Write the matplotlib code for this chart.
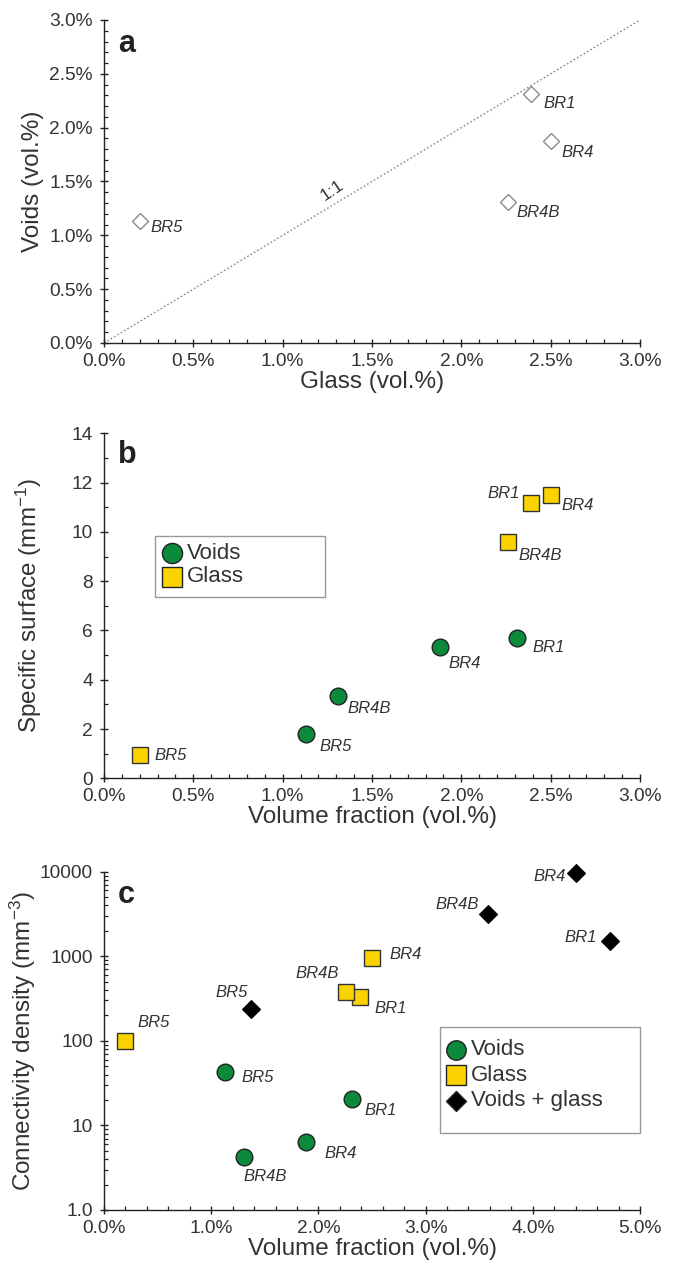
import matplotlib
matplotlib.use("Agg")
import matplotlib.pyplot as plt
from matplotlib.ticker import MultipleLocator, FixedLocator, NullFormatter, LogLocator, FuncFormatter
from matplotlib.patches import Rectangle

# ---------------- data ----------------
samples = ["BR1", "BR4", "BR4B", "BR5"]
glass_vol = [2.39, 2.50, 2.26, 0.20]          # glass volume fraction (vol.%)
voids_vol = [2.31, 1.88, 1.31, 1.13]          # voids volume fraction (vol.%)
voids_ss = [5.68, 5.33, 3.33, 1.79]           # specific surface voids (mm-1)
glass_ss = [11.19, 11.48, 9.59, 0.93]         # specific surface glass (mm-1)
voids_conn = [20.4, 6.4, 4.2, 43.3]           # connectivity density voids (mm-3)
glass_conn = [326, 952, 383, 100]             # connectivity density glass (mm-3)
comb_vol = [4.72, 4.40, 3.585, 1.367]         # voids + glass volume fraction
comb_conn = [1520, 9650, 3160, 239]           # connectivity density voids + glass

pct_ticks_a = [0.0, 0.5, 1.0, 1.5, 2.0, 2.5, 3.0]
ss_ticks = [0, 2, 4, 6, 8, 10, 12, 14]
pct_ticks_c = [0.0, 1.0, 2.0, 3.0, 4.0, 5.0]
conn_ticks = [1, 10, 100, 1000, 10000]
conn_labels = ["1.0", "10", "100", "1000", "10000"]

# ---------------- style ----------------
plt.rcParams['font.family'] = ['Liberation Sans', 'DejaVu Sans']
plt.rcParams['mathtext.fontset'] = 'custom'
plt.rcParams['mathtext.rm'] = 'Liberation Sans'
plt.rcParams['mathtext.it'] = 'Liberation Sans:italic'

GREEN = '#0b8a3c'
YELLOW = '#fbd400'
TXT = '#333333'
TICK_FS = 13.8
LAB_FS = 17.5
PT = 0.72  # px -> pt at dpi 100

fig = plt.figure(figsize=(6.73, 12.63), dpi=100)
W, H = 673, 1263


def rect(left, right, top, bottom):
    return [left / W, 1 - bottom / H, (right - left) / W, (bottom - top) / H]


def style_axes(ax):
    for s in ['top', 'right']:
        ax.spines[s].set_visible(False)
    for s in ['left', 'bottom']:
        ax.spines[s].set_linewidth(1.0)
        ax.spines[s].set_color('#222222')
    ax.tick_params(which='major', direction='inout', length=6, width=1.0,
                   color='#222222', labelsize=TICK_FS, labelcolor=TXT)
    ax.tick_params(which='minor', direction='in', length=2.8, width=0.9,
                   color='#222222')
    ax.tick_params(axis='x', which='major', pad=4)
    ax.tick_params(axis='y', which='major', pad=5)


def pct(v, pos=None):
    return f"{v:.1f}%"


def annotate(ax, xs, ys, offsets):
    for name, x, y in zip(samples, xs, ys):
        dx, dy, ha = offsets[name]
        ax.annotate(name, (x, y), xytext=(dx * PT, -dy * PT),
                    textcoords='offset points', ha=ha, va='center',
                    fontsize=12, fontstyle='italic', color=TXT)


def manual_legend(ax, box, mx, tx, rows):
    l, r, t, b = box
    ax.add_patch(Rectangle((l, b), r - l, t - b, transform=ax.transAxes,
                           facecolor='white', edgecolor='#999999', lw=1.0,
                           zorder=5, clip_on=False))
    for (y, marker, fc, ms, label) in rows:
        ax.plot([mx], [y], marker=marker, ms=ms, mfc=fc, mec='#222222',
                mew=1.0, ls='none', transform=ax.transAxes, zorder=6,
                clip_on=False)
        ax.text(tx, y, label, transform=ax.transAxes, fontsize=16,
                va='center', ha='left', color=TXT, zorder=6)


# ---------------- panel a ----------------
axa = fig.add_axes(rect(104, 640, 20, 343))
style_axes(axa)
axa.plot([0, 3], [0, 3], ls=(0, (1.2, 1.6)), color='#888888', lw=1.0, zorder=1)
axa.plot(glass_vol, voids_vol, ls='none', marker='D', ms=7.8, mfc='white',
         mec='#8a8a8a', mew=1.0, zorder=3, clip_on=False)
off_a = {"BR1": (12, 9, 'left'), "BR4": (11, 12, 'left'),
         "BR4B": (9, 11, 'left'), "BR5": (11, 6, 'left')}
annotate(axa, glass_vol, voids_vol, off_a)
axa.text(1.28, 1.42, "1:1", rotation=34, fontsize=12.5, color=TXT,
         ha='center', va='center')
axa.set_xlim(0, 3)
axa.set_ylim(0, 3)
axa.set_xticks(pct_ticks_a)
axa.set_yticks(pct_ticks_a)
axa.xaxis.set_major_formatter(FuncFormatter(pct))
axa.yaxis.set_major_formatter(FuncFormatter(pct))
axa.xaxis.set_minor_locator(MultipleLocator(0.1))
axa.yaxis.set_minor_locator(MultipleLocator(0.1))
axa.set_xlabel("Glass (vol.%)", fontsize=LAB_FS, color=TXT, labelpad=1)
axa.set_ylabel("Voids (vol.%)", fontsize=LAB_FS, color=TXT, labelpad=4)
axa.text(0.026, 0.90, "a", transform=axa.transAxes, fontsize=22,
         fontweight='bold', va='baseline', ha='left', color='#222222')

# ---------------- panel b ----------------
axb = fig.add_axes(rect(104, 640, 433.3, 778.3))
style_axes(axb)
axb.plot(voids_vol, voids_ss, ls='none', marker='o', ms=12, mfc=GREEN,
         mec='#222222', mew=1.0, zorder=3)
axb.plot(glass_vol, glass_ss, ls='none', marker='s', ms=12, mfc=YELLOW,
         mec='#333333', mew=1.0, zorder=3)
off_bv = {"BR1": (16, 9, 'left'), "BR4": (9, 17, 'left'),
          "BR4B": (9, 12, 'left'), "BR5": (14, 12, 'left')}
off_bg = {"BR1": (-11, -9, 'right'), "BR4": (11, 10, 'left'),
          "BR4B": (11, 14, 'left'), "BR5": (15, 0, 'left')}
annotate(axb, voids_vol, voids_ss, off_bv)
annotate(axb, glass_vol, glass_ss, off_bg)
axb.set_xlim(0, 3)
axb.set_ylim(0, 14)
axb.set_xticks(pct_ticks_a)
axb.set_yticks(ss_ticks)
axb.xaxis.set_major_formatter(FuncFormatter(pct))
axb.xaxis.set_minor_locator(MultipleLocator(0.1))
axb.yaxis.set_minor_locator(MultipleLocator(1))
axb.set_xlabel("Volume fraction (vol.%)", fontsize=LAB_FS, color=TXT, labelpad=1)
axb.set_ylabel("Specific surface (mm$^{\\mathregular{-1}}$)", fontsize=LAB_FS,
               color=TXT, labelpad=20)
axb.text(0.026, 0.914, "b", transform=axb.transAxes, fontsize=22,
         fontweight='bold', va='baseline', ha='left', color='#222222')
manual_legend(axb, (0.0951, 0.4123, 0.7023, 0.5255), 0.1263, 0.1541,
              [(0.653, 'o', GREEN, 14.5, "Voids"),
               (0.5835, 's', YELLOW, 15, "Glass")])

# ---------------- panel c ----------------
axc = fig.add_axes(rect(104, 640, 871.7, 1210))
style_axes(axc)
axc.set_yscale('log')
axc.plot(voids_vol, voids_conn, ls='none', marker='o', ms=12, mfc=GREEN,
         mec='#222222', mew=1.0, zorder=3)
axc.plot(glass_vol, glass_conn, ls='none', marker='s', ms=12, mfc=YELLOW,
         mec='#333333', mew=1.0, zorder=3)
axc.plot(comb_vol, comb_conn, ls='none', marker='D', ms=9.5, mfc='black',
         mec='black', mew=0.8, zorder=3, clip_on=False)
off_cv = {"BR1": (13, 11, 'left'), "BR4": (19, 12, 'left'),
          "BR4B": (-1, 19, 'left'), "BR5": (16, 6, 'left')}
off_cg = {"BR1": (14, 11, 'left'), "BR4": (17, -4, 'left'),
          "BR4B": (-7, -18, 'right'), "BR5": (12, -18, 'left')}
off_cc = {"BR1": (-13, -3, 'right'), "BR4": (-10, 3, 'right'),
          "BR4B": (-9, -10, 'right'), "BR5": (-3, -16, 'right')}
annotate(axc, voids_vol, voids_conn, off_cv)
annotate(axc, glass_vol, glass_conn, off_cg)
annotate(axc, comb_vol, comb_conn, off_cc)
axc.set_xlim(0, 5)
axc.set_ylim(1, 10000)
axc.set_xticks(pct_ticks_c)
axc.xaxis.set_major_formatter(FuncFormatter(pct))
axc.xaxis.set_minor_locator(MultipleLocator(0.2))
axc.yaxis.set_major_locator(FixedLocator(conn_ticks))
axc.set_yticklabels(conn_labels)
axc.yaxis.set_minor_locator(LogLocator(base=10, subs=range(2, 10)))
axc.yaxis.set_minor_formatter(NullFormatter())
axc.set_xlabel("Volume fraction (vol.%)", fontsize=LAB_FS, color=TXT, labelpad=1)
axc.set_ylabel("Connectivity density (mm$^{\\mathregular{-3}}$)", fontsize=LAB_FS,
               color=TXT, labelpad=1)
axc.text(0.026, 0.9075, "c", transform=axc.transAxes, fontsize=22,
         fontweight='bold', va='baseline', ha='left', color='#222222')
manual_legend(axc, (0.6269, 1.0, 0.5409, 0.2276), 0.6567, 0.6847,
              [(0.473, 'o', GREEN, 14, "Voids"),
               (0.399, 's', YELLOW, 14.5, "Glass"),
               (0.3233, 'D', 'black', 10.5, "Voids + glass")])

fig.savefig("out.png", dpi=100)
